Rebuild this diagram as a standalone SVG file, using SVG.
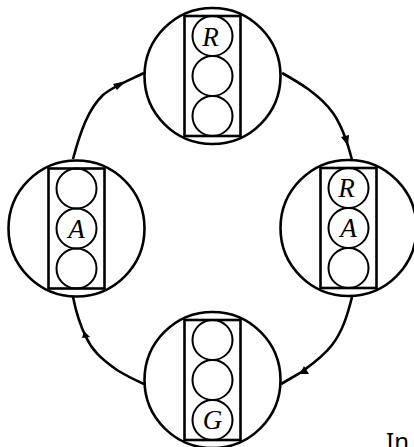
<svg xmlns="http://www.w3.org/2000/svg" width="414" height="447" viewBox="0 0 414 447">
<style>
.o{fill:none;stroke:#000;stroke-width:2.6}
.r{fill:none;stroke:#000;stroke-width:2.6}
.l{fill:none;stroke:#000;stroke-width:2}
.e{fill:none;stroke:#000;stroke-width:2.6}
.a{fill:#000}
text.t{font-family:"Liberation Serif",serif;font-style:italic;font-size:27px;text-anchor:middle;fill:#000}
</style>
<defs>
<g id="lamp"><circle class="o" r="68"/><rect class="r" x="-28" y="-60" width="56" height="120"/><circle class="l" cy="-40" r="20"/><circle class="l" r="20"/><circle class="l" cy="40" r="20"/></g>
</defs>
<g id="connectors">
<path class="e" d="M73 159C80 133 88 109 103 95C112 87 125 82 144 73"/>
<polygon class="a" points="126,81 113,84 117,90"/>
<path class="e" d="M282 73C300 83 320 95 333 113C342 126 347 140 352 160"/>
<polygon class="a" points="348,146 341,137 349,135"/>
<path class="e" d="M352 297C347 317 342 332 332 345C322 358 308 367 300 373C293 377 288 380 281 384"/>
<polygon class="a" points="300,374 304,366 309,374"/>
<path class="e" d="M73 297C76 312 80 325 86 337C92 350 100 358 117 370C125 375 135 380 144 384"/>
<polygon class="a" points="84,331 82,338 90,337"/>
</g>
<g id="node-top" transform="translate(212.5,76)"><use href="#lamp"/><text class="t" y="-30" x="-2">R</text></g>
<g id="node-left" transform="translate(76.5,228.5)"><use href="#lamp"/><text class="t" y="9">A</text></g>
<g id="node-right" transform="translate(348.5,228)"><use href="#lamp"/><text class="t" y="-31" x="-2">R</text><text class="t" y="9">A</text></g>
<g id="node-bottom" transform="translate(212.5,380)"><use href="#lamp"/><text class="t" y="49">G</text></g>
<text id="caption" x="386" y="450" style="font-family:'Noto Sans',sans-serif;font-size:24px;fill:#000">In</text>
</svg>
